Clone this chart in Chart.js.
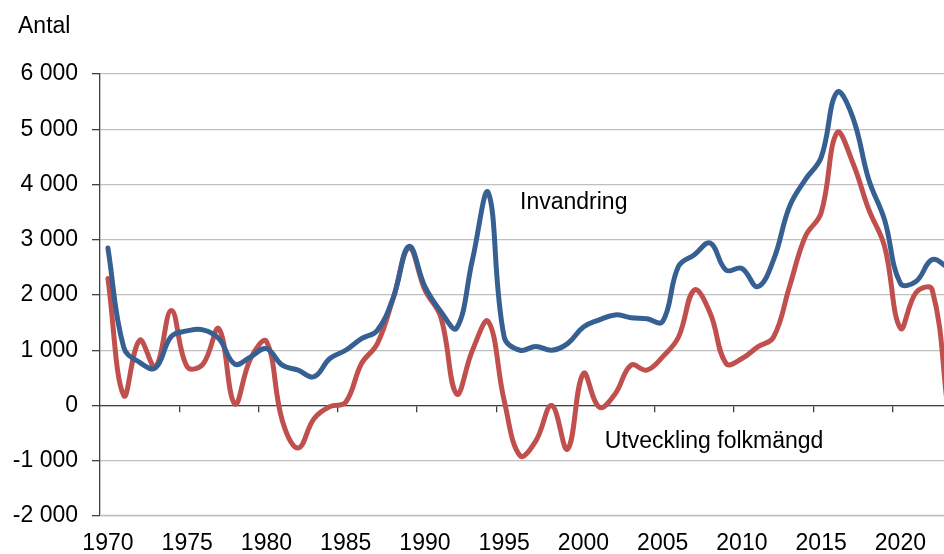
<!DOCTYPE html>
<html>
<head>
<meta charset="utf-8">
<script src="https://cdn.jsdelivr.net/npm/chart.js@4/dist/chart.umd.min.js"></script>
<style>
  html, body { margin: 0; padding: 0; background: #ffffff; }
  #wrap { position: relative; width: 944px; height: 554px; }
</style>
</head>
<body>
<div id="wrap"><canvas id="c" width="944" height="554"></canvas></div>
<script>
// ---- data ----
const years = [1970,1971,1972,1973,1974,1975,1976,1977,1978,1979,
               1980,1981,1982,1983,1984,1985,1986,1987,1988,1989,
               1990,1991,1992,1993,1994,1995,1996,1997,1998,1999,
               2000,2001,2002,2003,2004,2005,2006,2007,2008,2009,
               2010,2011,2012,2013,2014,2015,2016,2017,2018,2019,
               2020,2021,2022,2023];
const invandring = [2850,1050,780,680,1250,1350,1370,1210,750,880,
                    1030,730,640,520,850,1000,1210,1360,1950,2880,
                    2150,1700,1400,2640,3850,1240,1000,1070,1000,1120,
                    1420,1550,1640,1590,1570,1520,2520,2730,2940,2450,
                    2480,2150,2640,3600,4090,4490,5670,5210,4090,3360,
                    2210,2250,2640,2500];
const utveckling = [2300,180,1180,700,1720,700,750,1390,30,850,
                    1160,-270,-770,-240,-20,60,760,1120,1940,2850,
                    2090,1600,210,1000,1520,90,-910,-640,0,-790,
                    580,-30,210,730,640,880,1240,2090,1670,760,
                    850,1060,1240,2150,3060,3490,4940,4390,3550,2880,
                    1400,2050,2100,-80];
const xLabelTicks = [1970,1975,1980,1985,1990,1995,2000,2005,2010,2015,2020];
const yTicks = [-2000,-1000,0,1000,2000,3000,4000,5000,6000];
const seriesNames = ['Invandring','Utveckling folkmängd'];
const yTitle = 'Antal';
// annotation anchors (data coordinates)
const annotations = [
  {text: 'Invandring', x: 1996.0, y: 3560},
  {text: 'Utveckling folkmängd', x: 2001.35, y: -765}
];

const FONT = '"Liberation Sans", Arial, sans-serif';
const XMIN = 1969.5, XMAX = 2022.75;

function fmt(v) {
  const s = v < 0 ? '-' : '';
  const a = Math.abs(v);
  if (a >= 1000) {
    const th = Math.floor(a / 1000);
    const rest = String(a % 1000).padStart(3, '0');
    return s + th + ' ' + rest;
  }
  return s + a;
}

const textPlugin = {
  id: 'texts',
  beforeDatasetsDraw(chart) {
    // bottom gridline of the value axis (at its minimum tick)
    const ctx = chart.ctx, ys = chart.scales.y, a = chart.chartArea;
    const py = Math.round(ys.getPixelForValue(yTicks[0])) - 0.5;
    ctx.save();
    ctx.strokeStyle = '#BFBFBF';
    ctx.lineWidth = 1.3;
    ctx.beginPath();
    ctx.moveTo(a.left, py);
    ctx.lineTo(a.right, py);
    ctx.stroke();
    ctx.restore();
  },
  afterDraw(chart) {
    const ctx = chart.ctx;
    const xs = chart.scales.x, ys = chart.scales.y;
    ctx.save();
    ctx.fillStyle = '#000000';
    ctx.font = '23px ' + FONT;
    ctx.textBaseline = 'alphabetic';
    ctx.textAlign = 'left';
    annotations.forEach(a => {
      ctx.fillText(a.text, xs.getPixelForValue(a.x), ys.getPixelForValue(a.y));
    });
    ctx.fillText(yTitle, 18, 33);
    ctx.restore();
  }
};

new Chart(document.getElementById('c'), {
  type: 'line',
  data: {
    datasets: [
      {
        label: seriesNames[0],
        data: years.map((y, i) => ({x: y, y: invandring[i]})),
        borderColor: '#376092',
        borderWidth: 5,
        pointRadius: 0,
        tension: 0.4,
        fill: false,
        borderCapStyle: 'round',
        borderJoinStyle: 'round'
      },
      {
        label: seriesNames[1],
        data: years.map((y, i) => ({x: y, y: utveckling[i]})),
        borderColor: '#C0504D',
        borderWidth: 5,
        pointRadius: 0,
        tension: 0.4,
        fill: false,
        borderCapStyle: 'round',
        borderJoinStyle: 'round'
      }
    ]
  },
  options: {
    responsive: false,
    animation: false,
    devicePixelRatio: 1,
    layout: { padding: { top: 74, right: 0, bottom: 0, left: 0 } },
    plugins: {
      legend: { display: false },
      tooltip: { enabled: false },
      title: { display: false }
    },
    scales: {
      x: {
        type: 'linear',
        min: XMIN, max: XMAX,
        position: 'bottom',
        afterBuildTicks(scale) { scale.ticks = xLabelTicks.map(v => ({value: v})); },
        afterFit(scale) { scale.height = 38; },
        grid: { display: false, drawTicks: false },
        border: { display: false },
        ticks: {
          autoSkip: false,
          maxRotation: 0,
          padding: 14,
          color: '#000000',
          font: { family: FONT, size: 23 },
          callback: v => String(v)
        }
      },
      x2: {
        type: 'linear',
        min: XMIN, max: XMAX,
        position: { y: 0 },
        afterBuildTicks(scale) {
          const t = [];
          for (let k = 0; k <= 10; k++) t.push({value: 1974.5 + 5 * k});
          scale.ticks = t;
        },
        grid: { drawOnChartArea: false, drawTicks: true, tickLength: 6, tickColor: '#404040', lineWidth: 1.3 },
        border: { display: true, color: '#404040', width: 1.3 },
        ticks: { display: false }
      },
      y: {
        type: 'linear',
        min: -2000, max: 6000,
        afterBuildTicks(scale) { scale.ticks = yTicks.map(v => ({value: v})); },
        afterFit(scale) { scale.width = 100; },
        grid: { color: '#BFBFBF', lineWidth: 1.3, tickLength: 8, tickColor: '#404040', drawTicks: true },
        border: { display: true, color: '#404040', width: 1.3 },
        ticks: {
          padding: 14,
          color: '#000000',
          font: { family: FONT, size: 23 },
          callback: v => fmt(v)
        }
      }
    }
  },
  plugins: [textPlugin]
});
</script>
</body>
</html>
